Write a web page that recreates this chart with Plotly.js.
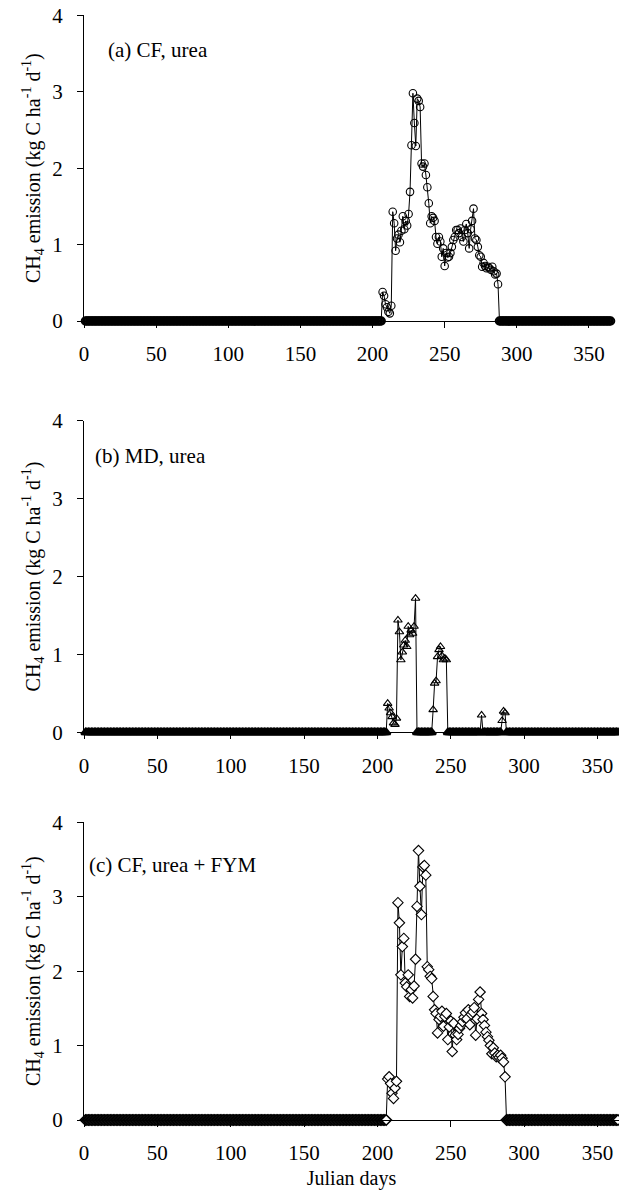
<!DOCTYPE html>
<html>
<head>
<meta charset="utf-8">
<script src="https://cdn.plot.ly/plotly-3.0.1.min.js"></script>
<style>html,body{margin:0;padding:0;background:#fff;}#chart{width:619px;height:1190px;}</style>
</head>
<body>
<div id="chart"></div>
<script>
// Julian days of the year (x categories)
var firstDay = 1;
var lastDay = 365;
// Rice season: daily emission values (days 207..287); all other days are 0
var seasonStart = 207;
var cfUrea = [0.38,0.33,0.22,0.18,0.12,0.10,0.20,1.43,1.28,0.92,1.08,1.13,1.03,1.18,1.37,1.20,1.31,1.25,1.40,1.69,
  2.30,2.98,2.59,2.29,2.91,2.88,2.80,2.06,2.02,2.06,1.91,1.75,1.54,1.28,1.37,1.35,1.31,1.10,1.01,1.10,
  1.04,0.84,0.95,0.72,0.89,0.83,0.84,0.89,0.97,1.06,1.10,1.19,1.19,1.15,1.21,1.10,1.04,1.19,1.27,1.15,
  0.95,1.20,1.31,1.47,1.08,1.06,0.97,0.86,0.84,0.71,0.76,0.72,0.69,0.71,0.69,0.67,0.71,0.65,0.61,0.62,0.48];
var mdUrea = [0.37,0.31,0.25,0.20,0.12,0.10,0.18,1.44,1.29,0.93,1.03,1.12,1.18,1.10,1.36,1.25,1.31,1.27,1.36,1.72,
  0,0,0,0,0,0,0,0,0,0,0,
  0.29,0.63,0.66,0.97,1.06,1.10,0.98,0.93,0.95,0.93,
  0,0,0,0,0,0,0,0,0,0,0,0,0,0,0,0,0,0,0,0,0,0,0,
  0.22,
  0,0,0,0,0,0,0,0,0,0,0,0,0,
  0.15,0.27,0.25];
var cfUreaFym = [0.55,0.58,0.49,0.36,0.29,0.43,0.52,2.92,2.65,1.95,2.33,2.44,1.84,1.79,1.95,1.66,1.75,1.64,1.80,2.16,
  2.87,3.62,3.14,2.76,3.40,3.42,3.29,2.06,2.02,1.93,1.90,1.66,1.48,1.43,1.17,1.35,1.39,1.46,1.26,1.39,
  1.43,1.08,1.25,1.33,0.92,1.30,1.14,1.08,1.15,1.23,1.27,1.32,1.38,1.44,1.36,1.48,1.28,1.42,1.45,1.51,
  1.14,1.36,1.62,1.72,1.43,1.35,1.27,1.18,1.12,1.07,1.00,0.89,0.97,0.90,0.85,0.87,0.84,0.87,0.83,0.78,0.58];
var panelLabels = ["(a) CF, urea", "(b) MD, urea", "(c) CF, urea + FYM"];
var xTicks = [0,50,100,150,200,250,300,350];
var yTicks = [0,1,2,3,4];

function fullYear(season){
  var x = [], y = [];
  for (var d = firstDay; d <= lastDay; d++){
    x.push(d);
    var i = d - seasonStart;
    y.push(i >= 0 && i < season.length ? season[i] : 0);
  }
  return {x:x, y:y};
}

var W = 619, H = 1190;
function fx(px){ return px / W; }
function fy(px){ return 1 - px / H; }

var font = "Liberation Serif, Times New Roman, serif";
var a = fullYear(cfUrea), b = fullYear(mdUrea), c = fullYear(cfUreaFym);
// thicker marker outline where markers pile up on the zero line (style only)
function edge(vals, w0, w1){ return vals.map(function(v){ return v === 0 ? w0 : w1; }); }

var traces = [
  {x:a.x, y:a.y, xaxis:'x', yaxis:'y', mode:'lines+markers', cliponaxis:false,
   line:{color:'#000', width:1}, marker:{symbol:'circle-open', size:7.5, color:'#000', line:{width:edge(a.y,2,1.1), color:'#000'}}},
  {x:b.x, y:b.y, xaxis:'x2', yaxis:'y2', mode:'lines+markers', cliponaxis:false,
   line:{color:'#000', width:1}, marker:{symbol:'triangle-up-open', size:7.5, color:'#000', line:{width:edge(b.y,2,1.1), color:'#000'}}},
  {x:c.x, y:c.y, xaxis:'x3', yaxis:'y3', mode:'lines+markers', cliponaxis:false,
   line:{color:'#000', width:1}, marker:{symbol:'diamond', size:8, color:'#fff', line:{width:edge(c.y,1.6,1.1), color:'#000'}}}
];

function xa(domEnd, rEnd, anchor, showTitle){
  var o = {domain:[fx(84), domEnd], range:[0, rEnd], anchor:anchor, showline:true, linecolor:'#000', linewidth:1,
    ticks:'outside', ticklen:6, tickcolor:'#000', tickwidth:1, showgrid:false, zeroline:false,
    tickmode:'array', tickvals:xTicks, ticktext:xTicks.map(String), ticklabelstandoff:8,
    tickfont:{family:font, size:21, color:'#000'}};
  if (showTitle) o.title = {text:'Julian days', font:{family:font, size:20, color:'#000'}, standoff:8};
  return o;
}
function ya(top, bottom, anchor){
  return {domain:[fy(bottom), fy(top)], range:[0,4], anchor:anchor, showline:true, linecolor:'#000', linewidth:1,
    ticks:'outside', ticklen:6, tickcolor:'#000', tickwidth:1, showgrid:false, zeroline:false,
    tickmode:'array', tickvals:yTicks, ticktext:yTicks.map(String), ticklabelstandoff:10,
    tickfont:{family:font, size:21, color:'#000'},
    title:{text:'CH<sub>4</sub> emission (kg C ha<sup>-1</sup> d<sup>-1</sup>)', font:{family:font, size:20, color:'#000'}, standoff:6}};
}

var layout = {
  width:W, height:H, margin:{l:0, r:0, t:0, b:0}, paper_bgcolor:'#fff', plot_bgcolor:'#fff', showlegend:false,
  font:{family:font, color:'#000'},
  xaxis: xa(fx(612), 366, 'y', false),
  yaxis: ya(15.3, 321, 'x'),
  xaxis2: xa(1, (619-84)/1.467, 'y2', false),
  yaxis2: ya(420.7, 732.3, 'x2'),
  xaxis3: xa(1, (619-84)/1.467, 'y3', true),
  yaxis3: ya(822.3, 1120, 'x3'),
  annotations: [
    {text:panelLabels[0], xref:'paper', yref:'paper', x:fx(106), y:fy(50), xanchor:'left', yanchor:'middle', showarrow:false, font:{family:font, size:21, color:'#000'}},
    {text:panelLabels[1], xref:'paper', yref:'paper', x:fx(93), y:fy(456), xanchor:'left', yanchor:'middle', showarrow:false, font:{family:font, size:21, color:'#000'}},
    {text:panelLabels[2], xref:'paper', yref:'paper', x:fx(87), y:fy(865), xanchor:'left', yanchor:'middle', showarrow:false, font:{family:font, size:21, color:'#000'}}
  ]
};

Plotly.newPlot('chart', traces, layout, {staticPlot:true, displayModeBar:false});
</script>
</body>
</html>
